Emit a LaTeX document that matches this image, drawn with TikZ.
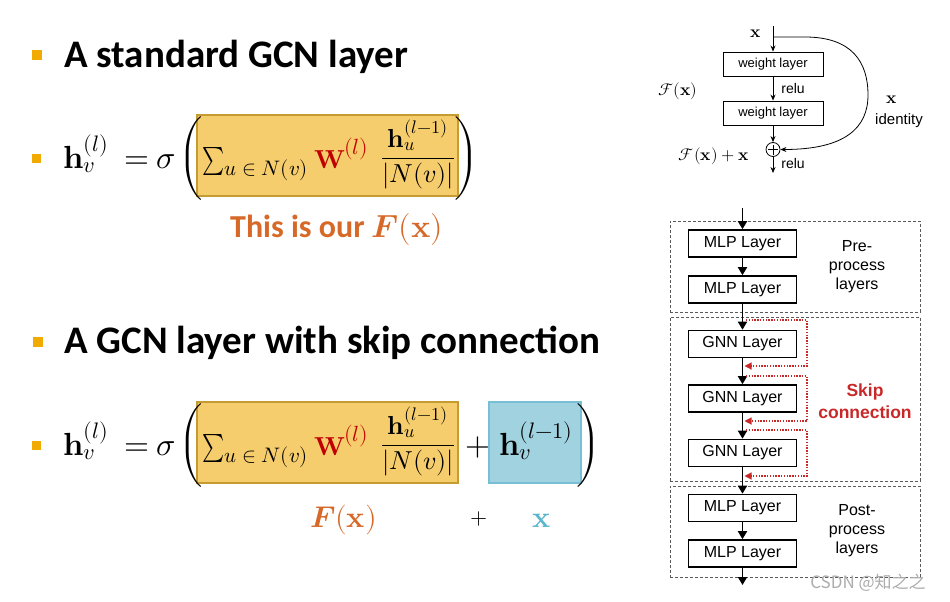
\documentclass[tikz,border=0pt]{standalone}
\usepackage{fontspec}
\usepackage{unicode-math}
\setmainfont{Carlito}
\newfontfamily\arialf{Liberation Sans}
\newfontfamily\cjkf{Noto Sans CJK SC}
\usetikzlibrary{arrows.meta,calc}
\definecolor{bulor}{RGB}{240,170,0}
\definecolor{boxor}{RGB}{246,205,108}
\definecolor{boxorline}{RGB}{196,156,50}
\definecolor{boxbl}{RGB}{160,210,224}
\definecolor{boxblline}{RGB}{120,190,212}
\definecolor{wred}{RGB}{192,0,0}
\definecolor{fxor}{RGB}{214,105,40}
\definecolor{xbl}{RGB}{90,182,206}
\definecolor{skipred}{RGB}{200,40,40}
\definecolor{grpgray}{RGB}{90,90,90}
\begin{document}
\begin{tikzpicture}[x=1pt,y=-1pt,
  bul/.style={fill=bulor,inner sep=0,minimum size=10pt},
  sbul/.style={fill=bulor,inner sep=0,minimum size=9pt},
  ttl/.style={anchor=base west,inner sep=0,font=\bfseries\fontsize{39}{44}\selectfont},
  mth/.style={anchor=base west,inner sep=0,font=\fontsize{32}{38}\selectfont},
  subm/.style={anchor=base west,inner sep=0,font=\fontsize{21}{25}\selectfont},
  supm/.style={anchor=base west,inner sep=0,font=\fontsize{22}{26}\selectfont,text=wred},
  wm/.style={anchor=base west,inner sep=0,font=\fontsize{26}{32}\selectfont,text=wred},
  frm/.style={anchor=base,inner sep=0,font=\fontsize{26}{32}\selectfont},
  par/.style={inner sep=0,font=\fontsize{28}{34}\selectfont},
  obox/.style={draw=boxorline,fill=boxor,line width=1.2pt,minimum width=261pt,minimum height=81pt,inner sep=0},
  bbox/.style={draw=boxblline,fill=boxbl,line width=1.2pt,minimum width=92pt,minimum height=81pt,inner sep=0},
  wl/.style={draw,line width=0.9pt,minimum width=100pt,minimum height=24pt,inner sep=0,font=\arialf\fontsize{13}{15}\selectfont},
  rlbl/.style={inner sep=0,font=\arialf\fontsize{14}{16}\selectfont},
  rmath/.style={inner sep=0,font=\fontsize{17}{20}\selectfont},
  rn/.style={line width=0.8pt,-{Stealth[length=6pt,width=5pt]}},
  lay/.style={draw,line width=1.6pt,minimum width=108pt,minimum height=27pt,inner sep=0,font=\arialf\fontsize{16}{18}\selectfont},
  grp/.style={draw=grpgray,line width=0.9pt,dash pattern=on 3pt off 2pt,minimum width=250pt,inner sep=0},
  flow/.style={line width=1.8pt,-{Triangle[length=8pt,width=9pt]}},
  skip/.style={draw=skipred,line width=1.2pt,dash pattern=on 1.4pt off 1.4pt,-{Triangle[length=7pt,width=7pt]}},
  side/.style={align=center,inner sep=0,font=\arialf\fontsize{16}{19}\selectfont}
]
\useasboundingbox (0,0) rectangle (950,602);

% ---------- titles ----------
\node[bul] (bt1) at (37,55) {};
\node[ttl] (t1) at (64,67) {A standard GCN layer};
\node[bul] (bt2) at (37.5,342) {};
\node[ttl] (t2) at (64,353) {A GCN layer with skip connection};

% ---------- formula 1 ----------
\node[sbul] (bf1) at (36.5,158) {};
\node[mth] (h1) at (63,168) {$\symbf{h}_v^{(l)}$};
\node[mth,anchor=base] (eq1) at (137,168) {$=$};
\node[mth,anchor=base] (sg1) at (166,168) {$\sigma$};
\node[obox] (fb1) at (327.5,155.5) {};
\node[par] (lp1) at (191,158) {$\left(\vrule height 33pt depth 33pt width 0pt\right.$};
\node[par] (rp1) at (466.5,158) {$\left.\vrule height 33pt depth 33pt width 0pt\right)$};
\node[mth,font=\fontsize{28}{34}\selectfont] (s1) at (202,168) {\scalebox{0.75}[1]{$\sum$}};
\node[subm] (sb1) at (224,175) {$u\in N(v)$};
\node[wm] (w1) at (314,168) {$\symbf{W}$};
\node[supm] (ws1) at (344,154) {$(l)$};
\node[frm] (fr1) at (418,165) {$\dfrac{\symbf{h}_u^{(l-1)}}{|N(v)|}$};
\node[anchor=base west,inner sep=0,text=fxor,font=\bfseries\fontsize{32}{36}\selectfont] (lab1) at (230,237) {This is our $\symbfit{F}(\symbf{x})$};

% ---------- formula 2 ----------
\node[sbul] (bf2) at (36.5,445) {};
\node[mth] (h2) at (63,455) {$\symbf{h}_v^{(l)}$};
\node[mth,anchor=base] (eq2) at (137,455) {$=$};
\node[mth,anchor=base] (sg2) at (166,455) {$\sigma$};
\node[obox] (fb2) at (327.5,442.5) {};
\node[bbox] (bb2) at (535,442.5) {};
\node[par] (lp2) at (191,445) {$\left(\vrule height 33pt depth 33pt width 0pt\right.$};
\node[par] (rp2) at (588.5,445) {$\left.\vrule height 33pt depth 33pt width 0pt\right)$};
\node[mth,font=\fontsize{28}{34}\selectfont] (s2) at (202,455) {\scalebox{0.75}[1]{$\sum$}};
\node[subm] (sb2) at (224,462) {$u\in N(v)$};
\node[wm] (w2) at (314,455) {$\symbf{W}$};
\node[supm] (ws2) at (344,441) {$(l)$};
\node[frm] (fr2) at (418,452) {$\dfrac{\symbf{h}_u^{(l-1)}}{|N(v)|}$};
\node[mth,anchor=base] (pl2) at (478,455) {$+$};
\node[mth] (hv2) at (499,455) {$\symbf{h}_v^{(l-1)}$};
\node[anchor=base west,inner sep=0,text=fxor,font=\fontsize{30}{36}\selectfont] (fx2) at (310,527) {$\symbfit{F}(\symbf{x})$};
\node[inner sep=0,font=\fontsize{22}{26}\selectfont] (pl3) at (479.5,519) {$+$};
\node[anchor=base,inner sep=0,text=xbl,font=\fontsize{30}{36}\selectfont] (x3) at (541.5,527) {$\symbf{x}$};

% ---------- residual block ----------
\coordinate (xin) at (773,26);
\coordinate (split) at (773,37);
\coordinate (rout) at (773,173);
\node[rmath] (xl) at (756,34) {$\symbf{x}$};
\node[wl] (wl1) at (773,64) {weight layer};
\node[wl] (wl2) at (773,113) {weight layer};
\node[draw,circle,line width=0.8pt,minimum size=14pt,inner sep=0] (plus) at (773,149.5) {};
\draw[line width=0.8pt] ([xshift=-5pt]plus.center) -- ([xshift=5pt]plus.center)
  ([yshift=-5pt]plus.center) -- ([yshift=5pt]plus.center);
\draw[rn] (xin) -- (wl1);
\draw[rn] (wl1) -- (wl2) node[midway,anchor=west,xshift=8pt,rlbl] (relu1) {relu};
\draw[rn] (wl2) -- (plus);
\draw[rn] (plus) -- (rout) node[midway,anchor=west,xshift=8pt,yshift=1pt,rlbl] (relu2) {relu};
\draw[rn] (split) -- (805,37) .. controls (852,37) and (868,62) .. (868,95)
  .. controls (868,128) and (845,149.5) .. (plus.east);
\node[rmath] (fxl) at (678,91) {$\mathcal{F}(\symbf{x})$};
\node[rmath] (fxxl) at (714,156) {$\mathcal{F}(\symbf{x})+\symbf{x}$};
\node[rmath] (xr) at (892,100) {$\symbf{x}$};
\node[rlbl,font=\arialf\fontsize{15}{17}\selectfont] (idl) at (899,121) {identity};

% ---------- GNN pipeline ----------
\node[grp,minimum height=91pt] (g1) at (795,266.5) {};
\node[grp,minimum height=164pt] (g2) at (795,399) {};
\node[grp,minimum height=91pt] (g3) at (795,531.5) {};
\coordinate (in2) at (742.5,208);
\coordinate (out2) at (742.5,585);
\node[lay] (m1) at (742.5,243.5) {MLP Layer};
\node[lay] (m2) at (742.5,289.5) {MLP Layer};
\node[lay] (n1) at (742.5,344) {GNN Layer};
\node[lay] (n2) at (742.5,398.5) {GNN Layer};
\node[lay] (n3) at (742.5,453) {GNN Layer};
\node[lay] (m3) at (742.5,508) {MLP Layer};
\node[lay] (m4) at (742.5,553.5) {MLP Layer};
\draw[flow] (in2) -- (m1);
\draw[flow] (m1) -- (m2);
\draw[flow] (m2) -- (n1);
\draw[flow] (n1) -- (n2);
\draw[flow] (n2) -- (n3);
\draw[flow] (n3) -- (m3);
\draw[flow] (m3) -- (m4);
\draw[flow] (m4) -- (out2);
\coordinate (s1a) at (746,320);
\coordinate (s1b) at (744.5,366);
\coordinate (s2a) at (746,376);
\coordinate (s2b) at (744.5,421);
\coordinate (s3a) at (746,430);
\coordinate (s3b) at (744.5,476);
\draw[skip] (s1a) -- ++(61,0) |- (s1b);
\draw[skip] (s2a) -- ++(61,0) |- (s2b);
\draw[skip] (s3a) -- ++(61,0) |- (s3b);
\node[side] (pre) at (857,267) {Pre-\\process\\layers};
\node[side,font=\arialf\bfseries\fontsize{17.5}{22}\selectfont,text=skipred] (skl) at (865,401) {Skip\\connection};
\node[side] (post) at (857,531) {Post-\\process\\layers};
\node[inner sep=0,font=\cjkf\fontsize{17}{20}\selectfont,text=gray!65] (wm) at (868,583) {CSDN @知之之};
\end{tikzpicture}
\end{document}
